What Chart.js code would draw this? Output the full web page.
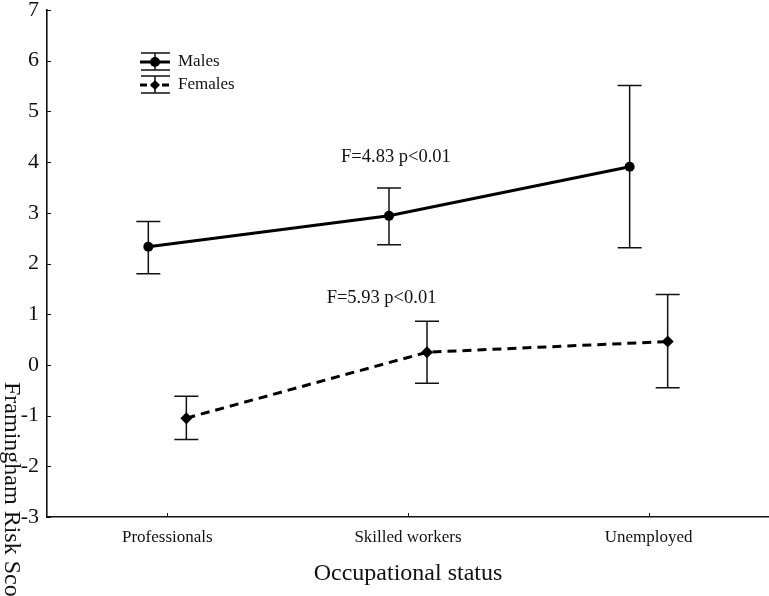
<!DOCTYPE html>
<html>
<head>
<meta charset="utf-8">
<script src="https://cdn.jsdelivr.net/npm/chart.js@4.4.1/dist/chart.umd.min.js"></script>
<style>
  html, body { margin: 0; padding: 0; background: #fff; }
  #wrap { width: 769px; height: 596px; }
</style>
</head>
<body>
<div id="wrap"><canvas id="chart" width="769" height="596"></canvas></div>
<script>
const categories = ['Professionals', 'Skilled workers', 'Unemployed'];

// mean and 95% CI ends per group
const malesMean = [2.33, 2.94, 3.91];
const malesLow = [1.80, 2.37, 2.31];
const malesHigh = [2.83, 3.49, 5.51];

const femalesMean = [-1.05, 0.25, 0.46];
const femalesLow = [-1.47, -0.36, -0.45];
const femalesHigh = [-0.62, 0.86, 1.39];

const statText = ['F=4.83 p<0.01', 'F=5.93 p<0.01'];
const statX = [0.95, 0.89];
const statY = [4.1, 1.32];

const SERIF = '"Liberation Serif", "DejaVu Serif", serif';
const INK = '#111';
const DODGE = 0.079; // males left of the tick, females right

const pts = (vals, shift) => vals.map((v, i) => ({ x: i + shift, y: v }));

// whiskers drawn under the lines
const errorBars = {
  id: 'errorBars',
  beforeDatasetsDraw(chart) {
    const { ctx, scales: { y } } = chart;
    ctx.save();
    ctx.strokeStyle = INK;
    ctx.lineWidth = 1.5;
    chart.data.datasets.forEach((ds, di) => {
      const meta = chart.getDatasetMeta(di);
      meta.data.forEach((pt, i) => {
        const x = pt.x;
        const y1 = y.getPixelForValue(ds.errLow[i]);
        const y2 = y.getPixelForValue(ds.errHigh[i]);
        ctx.beginPath();
        ctx.moveTo(x, y1); ctx.lineTo(x, y2);
        ctx.moveTo(x - 12, y1); ctx.lineTo(x + 12, y1);
        ctx.moveTo(x - 12, y2); ctx.lineTo(x + 12, y2);
        ctx.stroke();
      });
    });
    ctx.restore();
  }
};

// inward tick marks, legend box, stat labels, rotated y title
const extras = {
  id: 'extras',
  afterDraw(chart) {
    const { ctx, chartArea: a, scales: { x, y } } = chart;
    ctx.save();
    ctx.strokeStyle = INK;
    ctx.lineWidth = 1;
    ctx.beginPath();
    y.ticks.forEach(t => {
      const py = Math.round(y.getPixelForValue(t.value)) + 0.5;
      ctx.moveTo(a.left, py); ctx.lineTo(a.left + 4, py);
    });
    x.ticks.forEach(t => {
      const px = Math.round(x.getPixelForValue(t.value)) + 0.5;
      ctx.moveTo(px, a.bottom); ctx.lineTo(px, a.bottom - 4);
    });
    ctx.stroke();

    // legend
    const rows = [
      { label: 'Males', y: 62, dash: [], style: 'circle' },
      { label: 'Females', y: 85, dash: [7, 4], style: 'rectRot' }
    ];
    rows.forEach(r => {
      ctx.strokeStyle = INK;
      ctx.lineWidth = 1.5;
      ctx.setLineDash([]);
      ctx.beginPath();
      ctx.moveTo(155, r.y - 9); ctx.lineTo(155, r.y + 8);
      ctx.moveTo(141, r.y - 9); ctx.lineTo(170, r.y - 9);
      ctx.moveTo(141, r.y + 8); ctx.lineTo(170, r.y + 8);
      ctx.stroke();
      ctx.strokeStyle = '#000';
      ctx.lineWidth = 3;
      ctx.setLineDash(r.dash);
      ctx.beginPath();
      ctx.moveTo(140, r.y); ctx.lineTo(170, r.y);
      ctx.stroke();
      ctx.setLineDash([]);
      ctx.fillStyle = '#000';
      Chart.helpers.drawPoint(ctx, { pointStyle: r.style, radius: 5, borderWidth: 0 }, 155, r.y);
      ctx.fillStyle = INK;
      ctx.font = '17px ' + SERIF;
      ctx.textAlign = 'left';
      ctx.textBaseline = 'middle';
      ctx.fillText(r.label, 178, r.y);
    });

    // F statistics
    ctx.font = '18.5px ' + SERIF;
    ctx.textAlign = 'center';
    ctx.textBaseline = 'middle';
    ctx.fillStyle = INK;
    statText.forEach((t, i) => {
      ctx.fillText(t, x.getPixelForValue(statX[i]), y.getPixelForValue(statY[i]));
    });

    // y title, reading top to bottom
    ctx.translate(5, 382);
    ctx.rotate(Math.PI / 2);
    ctx.font = '24px ' + SERIF;
    ctx.textAlign = 'left';
    ctx.textBaseline = 'alphabetic';
    ctx.fillText('Framingham Risk Score', 0, 0);
    ctx.restore();
  }
};

new Chart(document.getElementById('chart'), {
  type: 'line',
  data: {
    datasets: [
      {
        label: 'Males',
        data: pts(malesMean, -DODGE),
        errLow: malesLow,
        errHigh: malesHigh,
        borderColor: '#000',
        borderWidth: 3,
        pointStyle: 'circle',
        pointRadius: 5,
        pointBackgroundColor: '#000',
        pointBorderWidth: 0,
        tension: 0
      },
      {
        label: 'Females',
        data: pts(femalesMean, DODGE),
        errLow: femalesLow,
        errHigh: femalesHigh,
        borderColor: '#000',
        borderWidth: 3,
        borderDash: [9, 6],
        pointStyle: 'rectRot',
        pointRadius: 6,
        pointBackgroundColor: '#000',
        pointBorderWidth: 0,
        tension: 0
      }
    ]
  },
  options: {
    responsive: false,
    animation: false,
    devicePixelRatio: 1,
    layout: { autoPadding: false, padding: { top: 10, right: 0, left: 0, bottom: 0 } },
    plugins: { legend: { display: false }, tooltip: { enabled: false } },
    scales: {
      x: {
        type: 'linear',
        min: -0.5,
        max: 2.5,
        afterBuildTicks: s => { s.ticks = categories.map((_, i) => ({ value: i })); },
        afterFit: s => { s.height = 79; s.paddingLeft = 0; s.paddingRight = 0; },
        grid: { display: false, drawTicks: false },
        border: { display: true, color: INK, width: 1.6 },
        ticks: {
          callback: v => categories[v] ?? '',
          font: { family: SERIF, size: 17 },
          color: INK,
          padding: 10,
          maxRotation: 0,
          autoSkip: false
        },
        title: {
          display: true,
          text: 'Occupational status',
          font: { family: SERIF, size: 24 },
          color: INK,
          padding: { top: 0, bottom: 8 }
        }
      },
      y: {
        min: -3,
        max: 7,
        afterFit: s => { s.width = 47; s.paddingTop = 0; s.paddingBottom = 0; },
        grid: { display: false, drawTicks: false },
        border: { display: true, color: INK, width: 1.6 },
        ticks: {
          stepSize: 1,
          font: { family: SERIF, size: 22 },
          color: INK,
          padding: 8
        }
      }
    }
  },
  plugins: [errorBars, extras]
});
</script>
</body>
</html>
